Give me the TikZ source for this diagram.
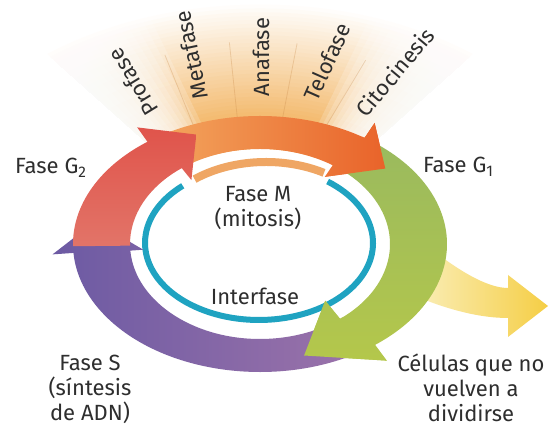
\documentclass[tikz,border=0pt]{standalone}
\usepackage{fontspec}
\setmainfont{Fira Sans}
\definecolor{txt}{HTML}{2E2E2E}
\definecolor{cyanr}{HTML}{1FA3C1}
\definecolor{thinor}{HTML}{EFA664}
\definecolor{fanor}{HTML}{F3B96C}
\definecolor{orL}{HTML}{F3A65E}
\definecolor{orR}{HTML}{E9632A}
\definecolor{redT}{HTML}{E0544B}
\definecolor{redB}{HTML}{E27468}
\definecolor{grT}{HTML}{9ABA5E}
\definecolor{grB}{HTML}{B4C74B}
\definecolor{puL}{HTML}{6C5AA3}
\definecolor{puR}{HTML}{9C73AA}
\definecolor{yeL}{HTML}{FAEDB5}
\definecolor{yeR}{HTML}{F5CE45}
\definecolor{divc}{HTML}{C98A4A}
\tikzset{
  lbl/.style={font=\fontsize{22}{25}\selectfont, text=txt, inner sep=0pt},
  divider/.style={divc, opacity=0.3, line width=0.8pt},
}
\def\orangepath{(124:187 and 128) arc[start angle=124, end angle=56, x radius=187, y radius=128]
  -- (56:205 and 146) -- (41:166 and 115) -- (56:116 and 81)
  -- (56:130 and 95) arc[start angle=56, end angle=124, x radius=130, y radius=95] -- cycle}
\begin{document}
\begin{tikzpicture}[x=1pt,y=1pt]
\useasboundingbox (0,0) rectangle (550,435);
\fill[white] (0,0) rectangle (550,435);
\begin{scope}[shift={(260,191)}]
  % fan glow
  \begin{scope}
    \clip (0,0) -- (130:400 and 300) arc[start angle=130, end angle=50, x radius=400, y radius=300] -- cycle;
    \foreach \i in {0,...,29} {
      \pgfmathsetmacro\s{1.9-\i*0.03}
      \pgfmathtruncatemacro\p{100*(1-(\s-1)/0.9)}
      \fill[fanor!\p!white] (0,0) ellipse [x radius={187*\s}, y radius={128*\s}];
    }
  \end{scope}
  \foreach \k in {1,...,14} {
    \fill[white, opacity=0.18] (0,0) -- (131:400 and 300)
      arc[start angle=131, end angle={131-1.5*\k}, x radius=400, y radius=300] -- cycle;
    \fill[white, opacity=0.18] (0,0) -- (49:400 and 300)
      arc[start angle=49, end angle={49+1.5*\k}, x radius=400, y radius=300] -- cycle;
  }
  \draw[divider] (111:187 and 128) -- ++(112:75);
  \draw[divider] (97:187 and 128) -- ++(96:75);
  \draw[divider] (83:187 and 128) -- ++(79:75);
  \draw[divider] (69:187 and 128) -- ++(59:75);
  \fill[white] (0,0) ellipse [x radius=130, y radius=95];
\end{scope}
% fan labels
\node[lbl, rotate=121.5] (pro) at (133,353) {Profase};
\node[lbl, rotate=102] (meta) at (191,380) {Metafase};
\node[lbl, rotate=90] (ana) at (261,378) {Anafase};
\node[lbl, rotate=66] (telo) at (327,373) {Telofase};
\node[lbl, rotate=50] (cito) at (395,363) {Citocinesis};
% inner rings
\draw[thinor, line width=8] (266,192) ++(128:116 and 81) arc[start angle=128, end angle=60, x radius=116, y radius=81];
\draw[cyanr, line width=6] (259,192) ++(53:114 and 77) arc[start angle=53, end angle=-228, x radius=114, y radius=77];
% yellow branch
\shade[left color=yeL, right color=yeR] (435,183) .. controls (465,160) and (490,147) .. (508,147)
  -- (508,160) -- (548,129) -- (508,98) -- (508,117) .. controls (480,117) and (450,125) .. (420,137) -- cycle;
\begin{scope}[shift={(260,191)}]
  \shade[left color=orL, right color=orR] \orangepath;
  \shade[top color=grT, bottom color=grB] (53:187 and 128) arc[start angle=53, end angle=-52, x radius=187, y radius=128]
    -- (-52:206 and 148) -- (-74:160 and 116) -- (-52:106 and 72)
    -- (-52:130 and 95) arc[start angle=-52, end angle=53, x radius=130, y radius=95] -- cycle;
  \shade[left color=puL, right color=puR] (-56:187 and 128) arc[start angle=-56, end angle=-176, x radius=187, y radius=128]
    -- (-176:208 and 149) -- (-191:168 and 118) -- (-176:117 and 82)
    -- (-176:130 and 95) arc[start angle=-176, end angle=-56, x radius=130, y radius=95] -- cycle;
  \shade[top color=redT, bottom color=redB] (181:187 and 128) arc[start angle=181, end angle=127, x radius=187, y radius=128]
    -- (127:204 and 146) -- (112:170 and 118) -- (127:114 and 80)
    -- (127:130 and 95) arc[start angle=127, end angle=181, x radius=130, y radius=95] -- cycle;
  \begin{scope}
    \clip (56:205 and 146) -- (41:166 and 115) -- (56:116 and 81) -- cycle;
    \shade[left color=orL, right color=orR] \orangepath;
  \end{scope}
  \begin{scope}
    \clip (-52:206 and 148) -- (-74:160 and 116) -- (-52:106 and 72) -- cycle;
    \shade[top color=grT, bottom color=grB] (53:187 and 128) arc[start angle=53, end angle=-52, x radius=187, y radius=128]
      -- (-52:206 and 148) -- (-74:160 and 116) -- (-52:106 and 72)
      -- (-52:130 and 95) arc[start angle=-52, end angle=53, x radius=130, y radius=95] -- cycle;
  \end{scope}
\end{scope}
% labels
\node[lbl, anchor=base west] (g2) at (15,261) {Fase G\textsubscript{2}};
\node[lbl, anchor=base west] (g1) at (423,262) {Fase G\textsubscript{1}};
\node[lbl, align=center, anchor=base] (m) at (258,208) {Fase M\\(mitosis)};
\node[lbl, anchor=base] (inter) at (255,130) {Interfase};
\node[lbl, align=center, anchor=base] (s) at (90,14) {Fase S\\(síntesis\\de ADN)};
\node[lbl, align=center, anchor=base] (cel) at (471,13) {Células que no\\vuelven a\\dividirse};
\end{tikzpicture}
\end{document}
